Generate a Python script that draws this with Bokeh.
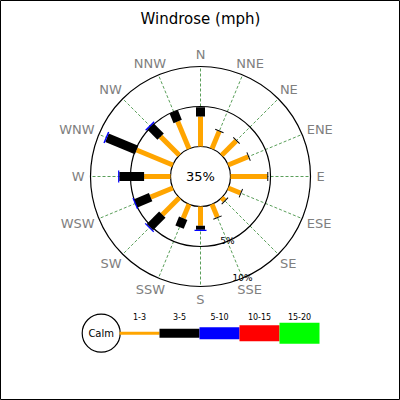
import math
from bokeh.plotting import figure
from bokeh.models import Range1d
from bokeh.core.properties import value
from bokeh.embed import file_html
from bokeh.resources import INLINE

# ---------------- data ----------------
title = "Windrose (mph)"
directions = ["N", "NNE", "NE", "ENE", "E", "ESE", "SE", "SSE",
              "S", "SSW", "SW", "WSW", "W", "WNW", "NW", "NNW"]
speed_bins = ["1-3", "3-5", "5-10", "10-15", "15-20"]
# percent of time per direction and speed bin
pct_1_3 = [3.75, 2.35, 2.55, 2.7, 4.6, 1.65, 0.5, 1.75,
           2.4, 1.9, 3.0, 3.0, 3.3, 4.9, 3.3, 3.7]
pct_3_5 = [1.15, 0.12, 0.12, 0.12, 0.12, 0.12, 0.12, 0.12,
           0.5, 1.2, 2.2, 2.0, 3.1, 4.0, 1.8, 1.3]
pct_5_10 = [0, 0, 0, 0, 0, 0, 0, 0,
            0.15, 0, 0.15, 0.15, 0.15, 0.18, 0.18, 0]
calm_pct = 35
ring_pcts = [5, 10]
ring_labels = ["5%", "10%"]

# ---------------- style / layout ----------------
bin_colors = ["#ffa500", "#000000", "#0000ff", "#ff0000", "#00ff00"]
rose_widths = [5, 9, 12]
legend_heights = [3, 9, 12, 16, 21]
W, H = 400, 400
CX, CY = 200, 176          # rose centre in screen pixels
R0 = 30                    # calm circle radius
K = 8.0                    # pixels per percent
LABEL_R = 116
LABEL_FS = 13
CHAR_W = {"N": 0.748, "E": 0.632, "S": 0.635, "W": 0.989}


def sx(x):
    return x - CX


def sy(y):
    return CY - y


def polar(r, bearing_deg):
    a = math.radians(bearing_deg)
    return r * math.sin(a), r * math.cos(a)


p = figure(width=W, height=H, x_range=Range1d(-CX, W - CX), y_range=Range1d(CY - H, CY),
           output_backend="svg", toolbar_location=None,
           x_axis_type=None, y_axis_type=None, min_border=0,
           outline_line_color="black", outline_line_width=1)
p.background_fill_color = "white"
p.border_fill_color = "white"

n = len(directions)
bearings = [i * 360.0 / n for i in range(n)]
r_max = R0 + K * max(ring_pcts)

# dashed radial grid lines
gx0, gy0, gx1, gy1 = [], [], [], []
for b in bearings:
    x0, y0 = polar(R0, b)
    x1, y1 = polar(r_max, b)
    gx0.append(x0); gy0.append(y0); gx1.append(x1); gy1.append(y1)
p.segment(gx0, gy0, gx1, gy1, line_color="#5a9f5a", line_width=1, line_dash="3 2")

# range rings
for rp in ring_pcts:
    p.circle(x=[0], y=[0], radius=R0 + K * rp, fill_color=None,
             line_color="black", line_width=1.2)
p.circle(x=[0], y=[0], radius=R0, fill_color="white", line_color="black", line_width=1.2)

# bars
series = [pct_1_3, pct_3_5, pct_5_10]
cum = [0.0] * n
for si, vals in enumerate(series):
    xs0, ys0, xs1, ys1 = [], [], [], []
    for i in range(n):
        if vals[i] <= 0:
            continue
        ra = R0 + K * cum[i]
        rb = R0 + K * (cum[i] + vals[i])
        x0, y0 = polar(ra, bearings[i])
        x1, y1 = polar(rb, bearings[i])
        xs0.append(x0); ys0.append(y0); xs1.append(x1); ys1.append(y1)
        cum[i] += vals[i]
    p.segment(xs0, ys0, xs1, ys1, line_color=bin_colors[si],
              line_width=rose_widths[si], line_cap="butt")

# direction labels: text box placed just outside radius LABEL_R
lx, ly = [], []
for b, lab in zip(bearings, directions):
    w = sum(CHAR_W[c] for c in lab) * LABEL_FS
    h = LABEL_FS
    a = math.radians(b)
    lx.append((LABEL_R + w / 2) * math.sin(a))
    ly.append((LABEL_R + h / 2) * math.cos(a))
p.text(lx, ly, text=directions, text_align="center", text_baseline="middle",
       text_font=value("DejaVu Sans"), text_font_size=f"{LABEL_FS}px", text_color="#7f7f7f")

# ring labels along SSE
rlx, rly = [], []
for rp in ring_pcts:
    x, y = polar(R0 + K * rp, 157.5)
    rlx.append(x); rly.append(y)
p.text(rlx, rly, text=ring_labels, text_align="center", text_baseline="middle",
       text_font=value("DejaVu Sans"), text_font_size="9px", text_color="black")

# calm label
p.text([0], [0], text=[f"{calm_pct}%"], text_align="center", text_baseline="middle",
       text_font=value("DejaVu Sans"), text_font_size="13px", text_color="black")

# title
p.text([sx(200)], [sy(18)], text=[title], text_align="center", text_baseline="alphabetic",
       text_font=value("DejaVu Sans"), text_font_size="15px", text_color="black")

# legend
LEG_Y = 332.7
calm_x, calm_r = 100.7, 19
seg_x0 = 119
seg_w = 40
p.circle(x=[sx(calm_x)], y=[sy(LEG_Y)], radius=calm_r, fill_color="white",
         line_color="black", line_width=1.2)
p.text([sx(calm_x)], [sy(LEG_Y)], text=["Calm"], text_align="center", text_baseline="middle",
       text_font=value("DejaVu Sans"), text_font_size="10px", text_color="black")
for i, lab in enumerate(speed_bins):
    left = seg_x0 + i * seg_w
    right = left + seg_w
    h = legend_heights[i]
    p.quad(left=[sx(left)], right=[sx(right)], top=[sy(LEG_Y - h / 2)], bottom=[sy(LEG_Y + h / 2)],
           fill_color=bin_colors[i], line_color=None)
    p.text([sx((left + right) / 2)], [sy(316)], text=[lab], text_align="center",
           text_baseline="middle", text_font=value("DejaVu Sans"), text_font_size="8px",
           text_color="black")

open("out.html", "w").write(file_html(p, INLINE))
